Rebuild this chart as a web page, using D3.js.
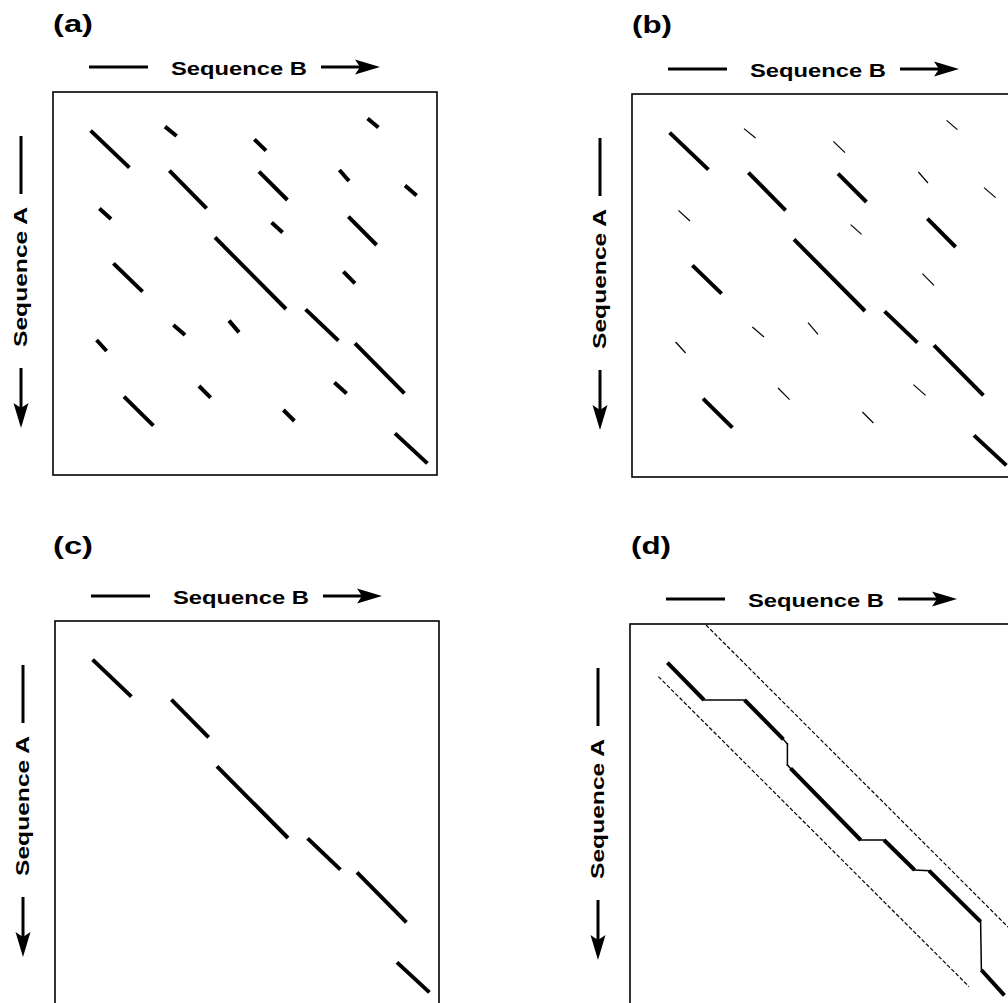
<!DOCTYPE html>
<html><head><meta charset="utf-8">
<script src="https://cdn.jsdelivr.net/npm/d3@7/dist/d3.min.js"></script>
<style>body{margin:0;background:#fff;overflow:hidden}</style>
</head><body><svg id="chart" width="1008" height="1003"></svg>
<script>
// ---------- data (residue positions along Sequence B / Sequence A) ----------
const seqLength = 192;
const panelIds = ["a", "b", "c", "d"];
const panelLabels = ["(a)", "(b)", "(c)", "(d)"];
const axisLabelB = "Sequence B";
const axisLabelA = "Sequence A";

// dot-plot diagonals: [bStart, aStart, bEnd, aEnd]
const dotSegments = [
  [18.8, 19.3, 38.2, 37.8],
  [56.0, 17.3, 61.8, 22.0],
  [100.7, 23.7, 106.5, 29.3],
  [157.3, 13.2, 162.7, 17.8],
  [58.2, 39.3, 76.8, 58.2],
  [103.0, 39.8, 117.2, 54.0],
  [143.2, 39.0, 148.0, 44.5],
  [176.0, 46.8, 181.8, 51.8],
  [23.2, 58.2, 29.0, 63.5],
  [109.3, 65.3, 114.8, 70.2],
  [147.7, 62.3, 161.8, 76.5],
  [81.0, 72.7, 116.5, 108.5],
  [30.2, 85.7, 44.8, 99.8],
  [145.2, 89.8, 151.0, 95.7],
  [126.3, 108.7, 142.7, 124.3],
  [60.2, 116.5, 66.0, 121.5],
  [88.0, 114.3, 93.0, 120.2],
  [21.8, 124.0, 26.8, 129.5],
  [151.0, 125.7, 175.7, 150.7],
  [140.7, 145.3, 146.8, 150.7],
  [73.0, 147.0, 78.8, 152.8],
  [35.5, 152.3, 50.2, 166.8],
  [115.2, 159.0, 120.7, 164.5],
  [171.0, 170.7, 187.2, 185.7]
];
// (b) filtering threshold (residues)
const minLength = 12;
// (c) diagonals kept on the main alignment
const diagonalIds = [0, 4, 11, 14, 18, 23];
// (d) alignment path and whether each step is a match diagonal (1) or gap (0)
const alignPath = [[18.7, 19.3], [37.0, 38.0], [57.3, 38.0], [76.7, 57.7], [78.7, 60.0],
  [78.7, 70.5], [80.3, 72.2], [115.3, 108.0], [127.0, 108.0], [142.3, 123.0],
  [149.5, 123.3], [175.3, 148.8], [175.7, 173.0], [187.2, 185.7]];
const alignMatch = [1, 0, 1, 0, 0, 0, 1, 0, 1, 0, 1, 0, 1];
const bandUpper = [[38.0, 0.5], [192.0, 154.5]];
const bandLower = [[14.2, 26.3], [169.5, 181.3]];

// ---------- layout ----------
const layout = [
  {x: 53, y: 92, lx: 53, ly: 32},
  {x: 632, y: 94, lx: 632, ly: 33},
  {x: 55, y: 621, lx: 53, ly: 554},
  {x: 630, y: 624, lx: 631, ly: 554}
];
const boxW = 384, boxH = 383;
const font = "'Liberation Sans', Arial, Helvetica, sans-serif";

const svg = d3.select("#chart");
const xs = d3.scaleLinear().domain([0, seqLength]).range([0, boxW]);
const ys = d3.scaleLinear().domain([0, seqLength]).range([0, boxW]);

function arrowHead(tx, ty, dir) {
  const L = 25, H = 7.5, N = 20;
  const pts = dir === "right"
    ? [[tx, ty], [tx - L, ty - H], [tx - N, ty], [tx - L, ty + H]]
    : [[tx, ty], [tx - H, ty - L], [tx, ty - N], [tx + H, ty - L]];
  return pts.map(p => p.join(",")).join(" ");
}

panelIds.forEach((id, i) => {
  const L = layout[i];
  svg.append("text").attr("x", L.lx).attr("y", L.ly)
    .attr("font-family", font).attr("font-weight", "bold").attr("font-size", 24)
    .attr("textLength", 40).attr("lengthAdjust", "spacingAndGlyphs")
    .text(panelLabels[i]);

  const g = svg.append("g").attr("transform", `translate(${L.x},${L.y})`);

  // header: Sequence B
  g.append("line").attr("x1", 36).attr("x2", 95).attr("y1", -25).attr("y2", -25)
    .attr("stroke", "#000").attr("stroke-width", 3);
  g.append("text").attr("x", 186).attr("y", -17).attr("text-anchor", "middle")
    .attr("font-family", font).attr("font-weight", "bold").attr("font-size", 18)
    .attr("textLength", 136).attr("lengthAdjust", "spacingAndGlyphs")
    .text(axisLabelB);
  g.append("line").attr("x1", 268).attr("x2", 312).attr("y1", -25).attr("y2", -25)
    .attr("stroke", "#000").attr("stroke-width", 3);
  g.append("polygon").attr("points", arrowHead(327, -25, "right")).attr("fill", "#000");

  // side: Sequence A
  g.append("line").attr("x1", -32).attr("x2", -32).attr("y1", 44).attr("y2", 102)
    .attr("stroke", "#000").attr("stroke-width", 3);
  g.append("text").attr("transform", `translate(-26,185) rotate(-90)`)
    .attr("text-anchor", "middle")
    .attr("font-family", font).attr("font-weight", "bold").attr("font-size", 18)
    .attr("textLength", 140).attr("lengthAdjust", "spacingAndGlyphs")
    .text(axisLabelA);
  g.append("line").attr("x1", -32).attr("x2", -32).attr("y1", 276).attr("y2", 322)
    .attr("stroke", "#000").attr("stroke-width", 3);
  g.append("polygon").attr("points", arrowHead(-32, 336, "down")).attr("fill", "#000");

  // frame
  g.append("rect").attr("x", 0).attr("y", 0).attr("width", boxW).attr("height", boxH)
    .attr("fill", "none").attr("stroke", "#000").attr("stroke-width", 1.6);

  const segLen = d => Math.hypot(d[2] - d[0], d[3] - d[1]);
  const drawSegs = (data, widthFn) => {
    g.selectAll(null).data(data).enter().append("line")
      .attr("x1", d => xs(d[0])).attr("y1", d => ys(d[1]))
      .attr("x2", d => xs(d[2])).attr("y2", d => ys(d[3]))
      .attr("stroke", "#000").attr("stroke-width", widthFn)
      .attr("stroke-linecap", "butt");
  };

  if (id === "a") {
    drawSegs(dotSegments, () => 4);
  } else if (id === "b") {
    drawSegs(dotSegments, d => segLen(d) >= minLength ? 4 : 1.2);
  } else if (id === "c") {
    drawSegs(dotSegments.filter((d, k) => diagonalIds.includes(k)), () => 4);
  } else {
    [bandUpper, bandLower].forEach(band => {
      g.append("line")
        .attr("x1", xs(band[0][0])).attr("y1", ys(band[0][1]))
        .attr("x2", xs(band[1][0])).attr("y2", ys(band[1][1]))
        .attr("stroke", "#000").attr("stroke-width", 1.2)
        .attr("stroke-dasharray", "4,2");
    });
    const steps = alignMatch.map((m, k) => ({m, p: alignPath[k], q: alignPath[k + 1]}));
    g.selectAll(null).data(steps).enter().append("line")
      .attr("x1", d => xs(d.p[0])).attr("y1", d => ys(d.p[1]))
      .attr("x2", d => xs(d.q[0])).attr("y2", d => ys(d.q[1]))
      .attr("stroke", "#000").attr("stroke-width", d => d.m ? 4 : 1.5)
      .attr("stroke-linecap", d => d.m ? "butt" : "square");
  }
});
</script>
</body></html>
